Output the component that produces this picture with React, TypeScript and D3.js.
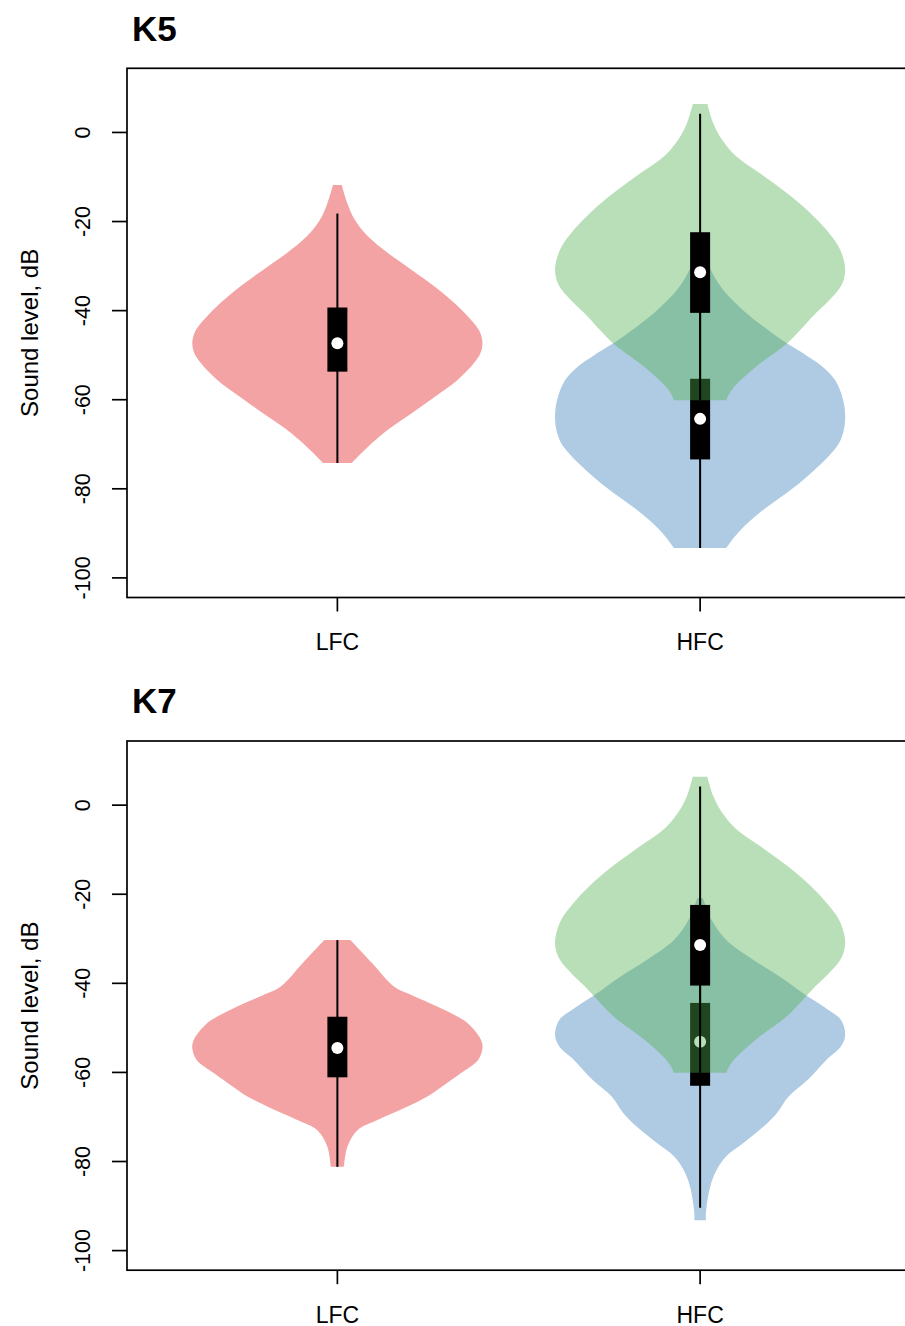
import React from 'react';
import * as d3 from 'd3';

const categories = ['LFC', 'HFC'];
const yTicks = [0, -20, -40, -60, -80, -100];
const panelTitles = ['K5', 'K7'];

// violin outlines: [sound level (dB), relative half-width]
const lfcK5 = [
  [-11.8, 0.03], [-16, 0.07], [-19.6, 0.12], [-23.3, 0.21], [-27.1, 0.35], [-30.8, 0.51],
  [-34.6, 0.67], [-39, 0.83], [-42.8, 0.94], [-45, 0.985], [-47.3, 1.0], [-49.6, 0.985],
  [-51.8, 0.94], [-55.5, 0.83], [-59.4, 0.67], [-63.1, 0.51], [-66.7, 0.35], [-70.6, 0.21],
  [-73.5, 0.12], [-74.2, 0.1],
];
const hfcGreen = [
  [6.4, 0.05], [2.1, 0.09], [-1.6, 0.15], [-5.4, 0.25], [-9.1, 0.41], [-12.9, 0.57],
  [-16.6, 0.71], [-21.1, 0.85], [-24.8, 0.94], [-27.5, 0.98], [-30.8, 1.0], [-33.5, 0.985],
  [-35.5, 0.95], [-38, 0.88], [-40.5, 0.8], [-44, 0.7], [-47.6, 0.59], [-52.5, 0.39],
  [-57.7, 0.22], [-60.1, 0.18],
];
const hfcBlueK5 = [
  [-27.5, 0.03], [-30, 0.06], [-35, 0.15], [-40.6, 0.32], [-44.4, 0.47], [-47.8, 0.62],
  [-50, 0.73], [-52.5, 0.84], [-55.6, 0.93], [-60, 0.985], [-64, 1.0], [-67.5, 0.985],
  [-70.6, 0.94], [-78, 0.71], [-85.4, 0.41], [-89.9, 0.26], [-93.3, 0.18],
];
const lfcK7 = [
  [-30.3, 0.09], [-35.5, 0.24], [-40.7, 0.39], [-42.6, 0.51], [-46, 0.74], [-49, 0.9],
  [-52.7, 0.99], [-54.6, 1.0], [-57.2, 0.97], [-60.2, 0.85], [-63.2, 0.72], [-65.4, 0.62],
  [-67.7, 0.48], [-70.6, 0.28], [-72.9, 0.14], [-76.6, 0.07], [-81.2, 0.045],
];
const hfcBlueK7 = [
  [-20.9, 0.02], [-25.8, 0.08], [-30.3, 0.18], [-34.8, 0.37], [-38.5, 0.55], [-42.2, 0.71],
  [-45.4, 0.86], [-48.2, 0.97], [-51.6, 1.0], [-54.2, 0.97], [-57.2, 0.87], [-61.7, 0.74],
  [-65.4, 0.61], [-69.1, 0.53], [-72.1, 0.44], [-75.8, 0.3], [-78.8, 0.18], [-81.8, 0.115],
  [-85.6, 0.07], [-91.5, 0.04], [-93.2, 0.04],
];

// box stats: [lower whisker, Q1, median, Q3, upper whisker]
const lfcK5Stats = [-74.2, -53.7, -47.3, -39.3, -18.2];
const greenStats = [-60.1, -40.5, -31.4, -22.4, 4.2];
const blueK5Stats = [-93.3, -73.4, -64.3, -55.3, -28.5];
const lfcK7Stats = [-81.2, -61.1, -54.5, -47.5, -30.3];
const blueK7Stats = [-90.4, -63, -53.1, -44.4, -20.9];

const RED = '#E41A1C';
const BLUE = '#377EB8';
const GREEN = '#4DAF4A';

const panels = [
  [
    { pos: 1, outline: lfcK5, stats: lfcK5Stats, color: RED },
    { pos: 2, outline: hfcBlueK5, stats: blueK5Stats, color: BLUE },
    { pos: 2, outline: hfcGreen, stats: greenStats, color: GREEN },
  ],
  [
    { pos: 1, outline: lfcK7, stats: lfcK7Stats, color: RED },
    { pos: 2, outline: hfcBlueK7, stats: blueK7Stats, color: BLUE },
    { pos: 2, outline: hfcGreen, stats: greenStats, color: GREEN },
  ],
];

const font = '"Liberation Sans", Arial, Helvetica, sans-serif';
const left = 127;
const right = 910.5;
const plotH = 529.2;
const panelTops = [68.3, 741];

const x = d3.scaleLinear().domain([0.42, 2.58]).range([left, right]);
const wex = 0.4;

function Panel({ idx }: { idx: number }) {
  const top = panelTops[idx];
  const bottom = top + plotH;
  const y = d3.scaleLinear().domain([-104.4, 14.4]).range([bottom, top]);

  return (
    <g>
      <text x={132} y={top - 27.6} fontFamily={font} fontWeight="bold" fontSize={35}>
        {panelTitles[idx]}
      </text>
      {panels[idx].map((s, i) => {
        const cx = x(s.pos);
        const area = d3
          .area<number[]>()
          .y((d) => y(d[0]))
          .x0((d) => x(s.pos - d[1] * wex))
          .x1((d) => x(s.pos + d[1] * wex))
          .curve(d3.curveCatmullRom.alpha(0.5));
        const [lo, q1, med, q3, hi] = s.stats;
        return (
          <g key={i}>
            <path d={area(s.outline) || ''} fill={s.color} fillOpacity={0.4} />
            <line x1={cx} x2={cx} y1={y(hi)} y2={y(lo)} stroke="#000" strokeWidth={2} />
            <rect x={cx - 10} width={20} y={y(q3)} height={y(q1) - y(q3)} fill="#000" />
            <circle cx={cx} cy={y(med)} r={6} fill="#fff" />
          </g>
        );
      })}
      <rect x={left} y={top} width={right - left} height={plotH} fill="none" stroke="#000" strokeWidth={1.7} />
      {yTicks.map((t) => (
        <g key={t}>
          <line x1={left} x2={left - 15} y1={y(t)} y2={y(t)} stroke="#000" strokeWidth={1.7} />
          <text
            transform={`translate(90,${y(t)}) rotate(-90)`}
            textAnchor="middle"
            fontFamily={font}
            fontSize={21.5}
          >
            {t}
          </text>
        </g>
      ))}
      {categories.map((c, i) => (
        <g key={c}>
          <line x1={x(i + 1)} x2={x(i + 1)} y1={bottom} y2={bottom + 14} stroke="#000" strokeWidth={1.7} />
          <text x={x(i + 1)} y={bottom + 52.5} textAnchor="middle" fontFamily={font} fontSize={23}>
            {c}
          </text>
        </g>
      ))}
      <text
        transform={`translate(38,${top + plotH / 2}) rotate(-90)`}
        textAnchor="middle"
        fontFamily={font}
        fontSize={24}
      >
        Sound level, dB
      </text>
    </g>
  );
}

export default function App() {
  return (
    <svg
      width={905}
      height={1326}
      style={{ position: 'absolute', left: 0, top: 0, background: '#fff' }}
    >
      <rect width={905} height={1326} fill="#fff" />
      <Panel idx={0} />
      <Panel idx={1} />
    </svg>
  );
}
